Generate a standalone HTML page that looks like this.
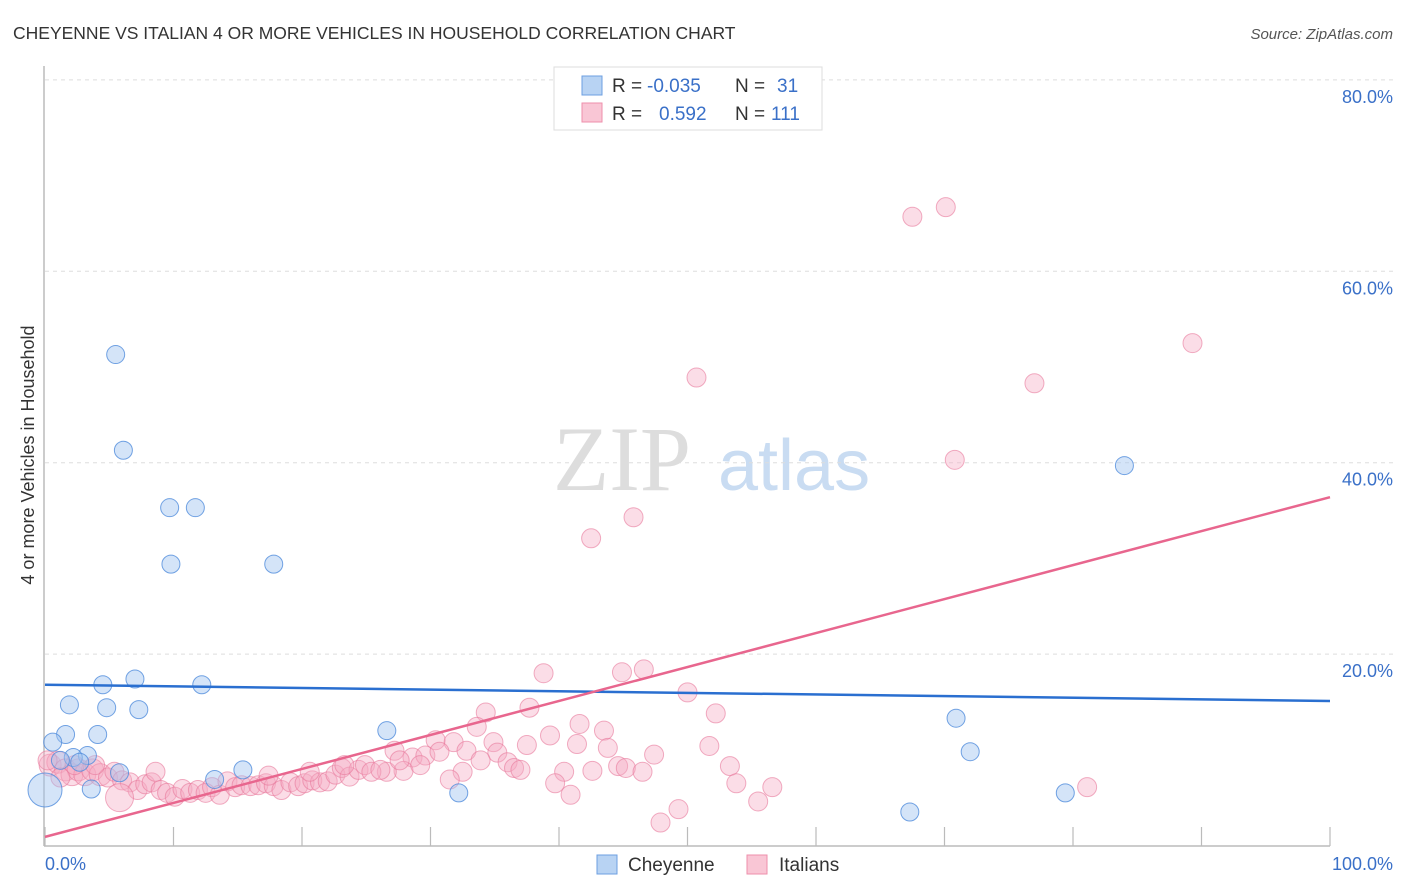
<!DOCTYPE html>
<html><head><meta charset="utf-8"><style>
body{margin:0;background:#fff;font-family:"Liberation Sans",sans-serif}
svg{display:block}
</style></head><body>
<svg id="chart" width="1406" height="892">
<text x="13" y="39" font-size="17.5" fill="#333">CHEYENNE VS ITALIAN 4 OR MORE VEHICLES IN HOUSEHOLD CORRELATION CHART</text>
<text x="1393" y="39" font-size="15" fill="#555" font-style="italic" text-anchor="end">Source: ZipAtlas.com</text>
<g>
<text x="553" y="490" font-size="92" font-family="Liberation Serif,serif" fill="#ddd">ZIP</text>
<text x="718" y="490" font-size="72" fill="#c9dcf2">atlas</text>
</g>
<g id="grid"></g>
<g id="axes"></g>
<g id="pts"></g>
<g id="trends"></g>
<text transform="translate(34,455) rotate(-90)" font-size="18" fill="#333" text-anchor="middle">4 or more Vehicles in Household</text>
<text x="45" y="870" font-size="18" fill="#3a70c8">0.0%</text>
<text x="1393" y="870" font-size="18" fill="#3a70c8" text-anchor="end">100.0%</text>
<g>
<rect x="554" y="67" width="268" height="63" fill="#fff" stroke="#ddd"/>
<rect x="582" y="76" width="20" height="19" fill="#b8d3f3" stroke="#6d9fe0"/>
<rect x="582" y="103" width="20" height="19" fill="#f9c6d5" stroke="#ee8fab"/>
<text x="612" y="92" font-size="19" fill="#333">R = <tspan fill="#3a70c8" x="647">-0.035</tspan><tspan x="735" fill="#333">N = </tspan><tspan x="777" fill="#3a70c8">31</tspan></text>
<text x="612" y="120" font-size="19" fill="#333">R = <tspan fill="#3a70c8" x="659">0.592</tspan><tspan x="735" fill="#333">N = </tspan><tspan x="771" fill="#3a70c8">111</tspan></text>
</g>
<g>
<rect x="597" y="855" width="20" height="19" fill="#b8d3f3" stroke="#6d9fe0"/>
<text x="628" y="871" font-size="19" fill="#333">Cheyenne</text>
<rect x="747" y="855" width="20" height="19" fill="#f9c6d5" stroke="#ee8fab"/>
<text x="779" y="871" font-size="19" fill="#333">Italians</text>
</g>
</svg>
<script>
const yTicks=[20,40,60,80];
const yTickLabels=["20.0%","40.0%","60.0%","80.0%"];
const xTicks=[0,10,20,30,40,50,60,70,80,90,100];
const cheyX=[5.5,6.1,9.7,11.7,9.8,17.8,4.5,7.0,12.2,1.9,4.8,7.3,1.6,4.1,26.6,0.6,3.3,2.2,2.7,5.8,15.4,13.2,3.6,0,32.2,84.0,70.9,72.0,67.3,79.4,1.2];
const cheyY=[51.3,41.3,35.3,35.3,29.4,29.4,16.8,17.4,16.8,14.7,14.4,14.2,11.6,11.6,12.0,10.8,9.4,9.2,8.7,7.6,7.9,6.9,5.9,5.8,5.5,39.7,13.3,9.8,3.5,5.5,8.9];
const cheyR=[10,10,10,10,10,10,10,10,10,10,10,10,10,10,10,10,10,10,10,10,10,10,10,18,10,10,10,10,10,10,10];
const itaX=[67.5,70.1,89.3,50.7,77.0,70.8,45.8,42.5,38.8,44.9,46.6,50.0,52.2,34.3,37.7,41.6,43.5,33.6,39.3,30.4,31.8,34.9,37.5,41.4,51.7,32.8,35.2,43.8,47.4,36.0,36.5,28.6,27.2,29.6,44.6,45.2,46.5,53.3,32.5,40.4,42.6,27.9,26.6,39.7,31.5,53.8,56.6,81.1,55.5,40.9,49.3,47.9,
0.4,1.0,1.6,2.1,2.6,3.1,3.7,4.3,4.9,5.4,6.0,6.6,7.2,7.8,8.3,9.0,9.5,10.1,10.7,11.3,11.9,12.5,13.0,13.6,14.2,14.8,15.3,16.0,16.6,17.2,17.8,18.4,19.1,19.7,20.2,20.8,21.4,22.0,22.6,23.1,23.7,24.4,24.9,25.4,26.1,5.8,0.2,2.3,23.3,27.6,30.7,33.9,37.0,1.2,3.9,8.6,17.4,20.6,29.2];
const itaY=[65.7,66.7,52.5,48.9,48.3,40.3,34.3,32.1,18.0,18.1,18.4,16.0,13.8,13.9,14.4,12.7,12.0,12.4,11.5,11.0,10.8,10.8,10.5,10.6,10.4,9.9,9.7,10.2,9.5,8.7,8.1,9.2,9.9,9.4,8.3,8.1,7.7,8.3,7.7,7.7,7.8,7.8,7.7,6.5,6.9,6.5,6.1,6.1,4.6,5.3,3.8,2.4,
8.4,8.7,7.9,7.4,7.9,7.4,7.9,7.4,7.1,7.7,6.8,6.6,5.8,6.4,6.6,5.8,5.5,5.1,5.9,5.5,5.8,5.5,6.1,5.3,6.7,6.1,6.3,6.2,6.3,6.5,6.2,5.8,6.6,6.2,6.5,6.8,6.6,6.7,7.4,8.1,7.2,7.9,8.4,7.7,7.9,5.0,8.9,8.4,8.4,8.9,9.8,8.9,7.9,7.1,8.4,7.7,7.3,7.7,8.4];
const cheyTrend=[16.8,15.1];
const itaTrend=[0.9,36.4];
const NS="http://www.w3.org/2000/svg";
const X0=45,X1=1330,Y0=845.5,PPY=9.57;
function xs(v){return X0+(X1-X0)*v/100}
function ys(v){return Y0-v*PPY}
function mk(tag,attrs,parent){const e=document.createElementNS(NS,tag);for(const k in attrs)e.setAttribute(k,attrs[k]);document.getElementById(parent).appendChild(e);return e}
yTicks.forEach((t,i)=>{
 const g=mk('line',{x1:45,x2:1393,y1:ys(t),y2:ys(t),stroke:'#ddd','stroke-dasharray':'4,4'},'grid');
 
 
 const tx=mk('text',{x:1393,y:ys(t)+23,'font-size':18,fill:'#3a70c8','text-anchor':'end'},'grid');
 tx.textContent=yTickLabels[i];
 
 
});
let a=mk('line',{x1:44,x2:44,y1:66,y2:846,stroke:'#bbb','stroke-width':1.5},'axes');


a=mk('line',{x1:44,x2:1330,y1:846,y2:846,stroke:'#bbb','stroke-width':1.5},'axes');


xTicks.forEach(t=>{
 const l=mk('line',{x1:xs(t),x2:xs(t),y1:827,y2:846,stroke:'#bbb','stroke-width':1.2},'axes');
 
 
});
itaX.forEach((v,i)=>{
 const c=mk('circle',{cx:xs(v),cy:ys(itaY[i]),r:i==97?14:(i>=52&&i<60?11:9.5),fill:'rgba(246,170,195,0.4)',stroke:'rgba(232,120,155,0.6)','stroke-width':1},'pts');
 
 
});
cheyX.forEach((v,i)=>{
 const c=mk('circle',{cx:xs(v),cy:ys(cheyY[i]),r:cheyR[i]-1,fill:'rgba(160,196,240,0.45)',stroke:'rgba(80,140,220,0.8)','stroke-width':1},'pts');
 
 
});
let t=mk('line',{x1:xs(0),x2:xs(100),y1:ys(cheyTrend[0]),y2:ys(cheyTrend[1]),stroke:'#2a6fd0','stroke-width':2.5},'trends');


t=mk('line',{x1:xs(0),x2:xs(100),y1:ys(itaTrend[0]),y2:ys(itaTrend[1]),stroke:'#e8668e','stroke-width':2.5},'trends');


</script>
</body></html>
